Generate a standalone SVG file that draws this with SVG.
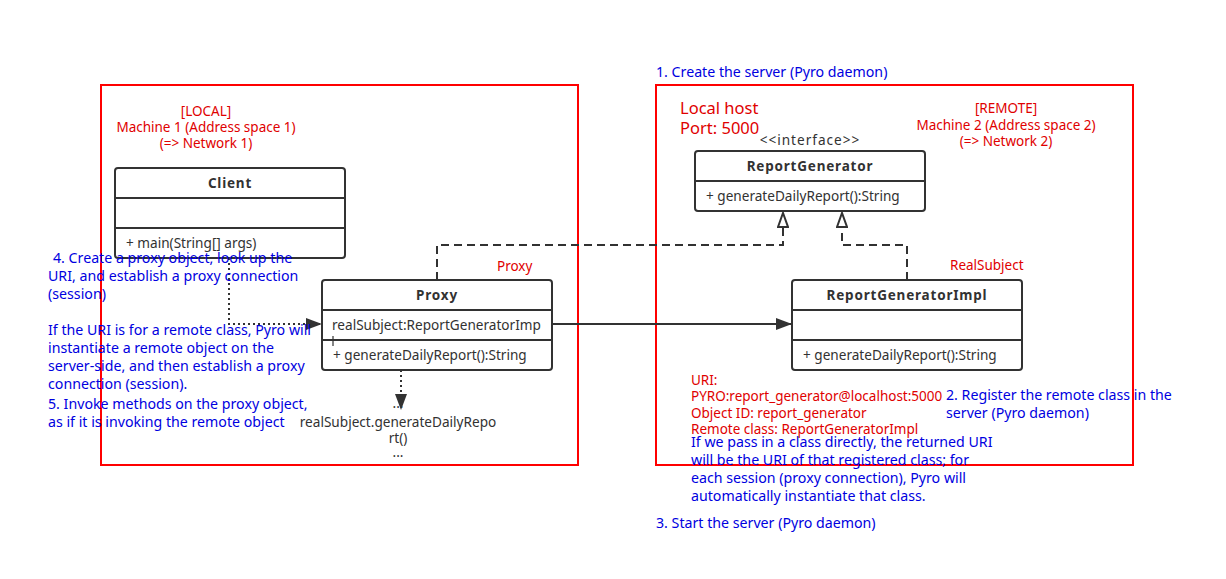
<svg xmlns="http://www.w3.org/2000/svg" width="1226" height="579" viewBox="0 0 1226 579">
<defs>
<style>
.zone{fill:none;stroke:#ff0000;stroke-width:2}
.box{fill:#ffffff;stroke:#323232;stroke-width:2}
.div{stroke:#323232;stroke-width:2}
.t{font-family:"Noto Sans","Liberation Sans",sans-serif;font-size:13.6px;fill:#323232}
.tb{font-family:"Noto Sans","Liberation Sans",sans-serif;font-size:13.5px;font-weight:bold;letter-spacing:0.8px;fill:#323232;text-anchor:middle}
.red{font-family:"Noto Sans","Liberation Sans",sans-serif;font-size:13.5px;fill:#e00000}
.big{font-size:16.5px}
.blue{font-family:"Noto Sans","Liberation Sans",sans-serif;font-size:14.2px;fill:#0000e0}
.c{text-anchor:middle}
.dash{fill:none;stroke:#323232;stroke-width:2;stroke-dasharray:8 5}
.dot{fill:none;stroke:#323232;stroke-width:2;stroke-dasharray:2 3}
.solid{fill:none;stroke:#323232;stroke-width:2}
</style>
<marker id="fill" viewBox="0 0 16 12" refX="16" refY="6" markerWidth="16" markerHeight="12" markerUnits="userSpaceOnUse" orient="auto">
<path d="M0,0 L16,6 L0,12 Z" fill="#323232"/>
</marker>
<marker id="hollow" viewBox="0 0 16 12" refX="15" refY="6" markerWidth="16" markerHeight="12" markerUnits="userSpaceOnUse" orient="auto">
<path d="M1,1 L15,6 L1,11 Z" fill="#ffffff" stroke="#323232" stroke-width="2"/>
</marker>
</defs>
<rect width="1226" height="579" fill="#ffffff"/>

<g id="zones">
<rect class="zone" x="101" y="85" width="477" height="380"/>
<rect class="zone" x="656" y="85" width="477" height="380"/>
</g>

<g id="connectors">
<path class="dash" d="M437,280 V245 H783 V213" marker-end="url(#hollow)"/>
<path class="dash" d="M907,280 V245 H842 V213" marker-end="url(#hollow)"/>
<path class="solid" d="M552,324 H792" marker-end="url(#fill)"/>
<path class="dot" d="M229,258 V324 H322" marker-end="url(#fill)"/>
<path class="dot" d="M401,370 V410" marker-end="url(#fill)"/>
</g>

<g id="client">
<rect class="box" x="115" y="168" width="230" height="90" rx="3"/>
<line class="div" x1="115" y1="198" x2="345" y2="198"/>
<line class="div" x1="115" y1="228" x2="345" y2="228"/>
<text class="tb" x="230" y="188">Client</text>
<text class="t" x="126" y="248">+ main(String[] args)</text>
</g>

<g id="proxy">
<rect class="box" x="322" y="280" width="230" height="90" rx="3"/>
<line class="div" x1="322" y1="310" x2="552" y2="310"/>
<line class="div" x1="322" y1="340" x2="552" y2="340"/>
<text class="tb" x="437" y="300">Proxy</text>
<text class="t" x="332" y="330">realSubject:ReportGeneratorImp</text>
<line x1="333" y1="336" x2="333" y2="346" stroke="#323232" stroke-width="1.2"/>
<text class="t" x="333" y="360">+ generateDailyReport():String</text>
</g>

<g id="reportGenerator">
<text class="t c" x="810" y="145" letter-spacing="1">&lt;&lt;interface&gt;&gt;</text>
<rect class="box" x="695" y="151" width="230" height="60" rx="3"/>
<line class="div" x1="695" y1="181" x2="925" y2="181"/>
<text class="tb" x="810" y="171">ReportGenerator</text>
<text class="t" x="706" y="201">+ generateDailyReport():String</text>
</g>

<g id="reportGeneratorImpl">
<rect class="box" x="792" y="280" width="230" height="90" rx="3"/>
<line class="div" x1="792" y1="310" x2="1022" y2="310"/>
<line class="div" x1="792" y1="340" x2="1022" y2="340"/>
<text class="tb" x="907" y="300">ReportGeneratorImpl</text>
<text class="t" x="803" y="360">+ generateDailyReport():String</text>
</g>

<g id="callNote">
<text class="t c" x="398" y="408">...</text>
<text class="t c" x="398" y="427">realSubject.generateDailyRepo</text>
<text class="t c" x="398" y="443">rt()</text>
<text class="t c" x="398" y="457">...</text>
</g>

<g id="labels">
<text class="red c" x="206" y="116">[LOCAL]</text>
<text class="red c" x="206" y="132">Machine 1 (Address space 1)</text>
<text class="red c" x="206" y="148">(=&gt; Network 1)</text>
<text class="red" x="497" y="271">Proxy</text>
<text class="red" x="950" y="270">RealSubject</text>
<text class="red big" x="680" y="114">Local host</text>
<text class="red big" x="680" y="134">Port: 5000</text>
<text class="red c" x="1006" y="113">[REMOTE]</text>
<text class="red c" x="1006" y="130">Machine 2 (Address space 2)</text>
<text class="red c" x="1006" y="146">(=&gt; Network 2)</text>
<text class="red" x="691" y="385">URI:</text>
<text class="red" x="691" y="401">PYRO:report_generator@localhost:5000</text>
<text class="red" x="691" y="418">Object ID: report_generator</text>
<text class="red" x="691" y="434">Remote class: ReportGeneratorImpl</text>
</g>

<g id="notes">
<text class="blue" x="656" y="77">1. Create the server (Pyro daemon)</text>
<text class="blue" x="946" y="400">2. Register the remote class in the</text>
<text class="blue" x="946" y="418">server (Pyro daemon)</text>
<text class="blue" x="691" y="447">If we pass in a class directly, the returned URI</text>
<text class="blue" x="691" y="465">will be the URI of that registered class; for</text>
<text class="blue" x="691" y="483">each session (proxy connection), Pyro will</text>
<text class="blue" x="691" y="501">automatically instantiate that class.</text>
<text class="blue" x="656" y="528">3. Start the server (Pyro daemon)</text>
<text class="blue" x="53" y="263">4. Create a proxy object, look up the</text>
<text class="blue" x="48" y="281">URI, and establish a proxy connection</text>
<text class="blue" x="48" y="299">(session)</text>
<text class="blue" x="48" y="335">If the URI is for a remote class, Pyro will</text>
<text class="blue" x="48" y="353">instantiate a remote object on the</text>
<text class="blue" x="48" y="371">server-side, and then establish a proxy</text>
<text class="blue" x="48" y="389">connection (session).</text>
<text class="blue" x="48" y="409">5. Invoke methods on the proxy object,</text>
<text class="blue" x="48" y="427">as if it is invoking the remote object</text>
</g>
</svg>
